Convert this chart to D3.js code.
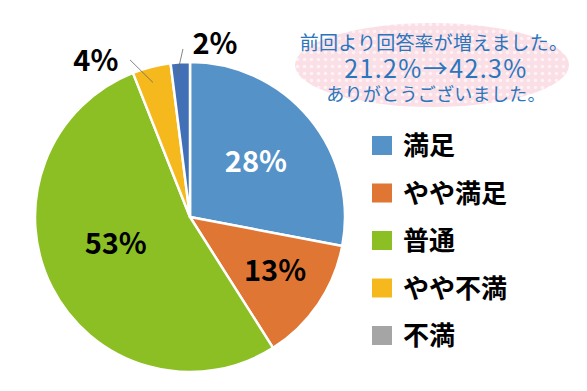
<!DOCTYPE html>
<html><head><meta charset="utf-8">
<script src="https://cdn.jsdelivr.net/npm/d3@7"></script>
<style>html,body{margin:0;padding:0;background:#fff;}svg{display:block;}</style>
</head><body>
<svg id="c" width="587" height="391"></svg>
<script>
const categories = ["満足", "やや満足", "普通", "やや不満", "不満"];
const values = [28, 13, 53, 4, 2];
const legendColors = ["#5592c8", "#e07634", "#8cbf24", "#f5b91e", "#a5a5a5"];
const sliceColors = ["#5592c8", "#e07634", "#8cbf24", "#f5b91e", "#4170b6"];
const labels = ["28%", "13%", "53%", "4%", "2%"];
const labelColors = ["#fff", "#000", "#000", "#000", "#000"];
const noteLines = ["前回より回答率が増えました。", "21.2%→42.3%", "ありがとうございました。"];

const svg = d3.select("#c");
const font = "'Noto Sans CJK JP', 'Noto Sans', sans-serif";

// speech bubble background
const defs = svg.append("defs");
const pat = defs.append("pattern").attr("id", "dots").attr("patternUnits", "userSpaceOnUse")
  .attr("width", 7).attr("height", 7);
pat.append("rect").attr("width", 7).attr("height", 7).attr("fill", "#fbdfe6");
pat.append("circle").attr("cx", 3.5).attr("cy", 3.5).attr("r", 1.8).attr("fill", "#fef2f5");
svg.append("ellipse").attr("cx", 432).attr("cy", 65).attr("rx", 137).attr("ry", 42)
  .attr("fill", "url(#dots)");

const note = svg.append("g").attr("fill", "#2a76bd").attr("font-family", font).attr("text-anchor", "middle");
note.append("text").attr("x", 434).attr("y", 50).attr("font-size", 19).attr("letter-spacing", 0.2).text(noteLines[0]);
note.append("text").attr("x", 436).attr("y", 78).attr("font-size", 25).attr("font-weight", 400).attr("letter-spacing", 1.4).text(noteLines[1]);
note.append("text").attr("x", 436).attr("y", 101).attr("font-size", 18).attr("letter-spacing", 0.3).text(noteLines[2]);

// pie
const cx = 190, cy = 217, r = 155;
const pie = d3.pie().sort(null).value(d => d)(values);
const arc = d3.arc().innerRadius(0).outerRadius(r);
const g = svg.append("g").attr("transform", `translate(${cx},${cy})`);
g.selectAll("path").data(pie).join("path")
  .attr("d", arc).attr("fill", (d, i) => sliceColors[i])
  .attr("stroke", "#fff").attr("stroke-width", 2.5).attr("stroke-linejoin", "round");

// label positions by polar coords (angle deg, radius fraction)
const labelPolar = [[50, 0.555], [122.4, 0.65], [250, 0.51], [329, 1.18], [8.2, 1.13]];
const fs = 29;
const rad = Math.PI / 180;
g.selectAll("text.lbl").data(pie).join("text").attr("class", "lbl")
  .attr("x", (d, i) => Math.sin(labelPolar[i][0] * rad) * labelPolar[i][1] * r)
  .attr("y", (d, i) => -Math.cos(labelPolar[i][0] * rad) * labelPolar[i][1] * r)
  .attr("dy", "0.36em")
  .attr("text-anchor", "middle").attr("font-family", font).attr("font-weight", 700)
  .attr("font-size", fs).attr("fill", (d, i) => labelColors[i]).text((d, i) => labels[i]);

// leader lines for small slices: [index, r0, r1, offset0 deg, offset1 deg]
const leaders = [[3, 0.90, 1.085, -1, -6.5], [4, 0.92, 1.085, -1.6, 1.2]];
leaders.forEach(([i, r0, r1, o0, o1]) => {
  const d = pie[i];
  const a = (d.startAngle + d.endAngle) / 2;
  const a0 = a + o0 * rad, a1 = a + o1 * rad;
  g.append("line")
    .attr("x1", Math.sin(a0) * r * r0).attr("y1", -Math.cos(a0) * r * r0)
    .attr("x2", Math.sin(a1) * r * r1).attr("y2", -Math.cos(a1) * r * r1)
    .attr("stroke", "#666").attr("stroke-width", 0.8);
});

// legend
const ly = d3.scalePoint().domain(categories).range([146, 336]);
const lg = svg.append("g");
lg.selectAll("rect").data(categories).join("rect")
  .attr("x", 372).attr("y", d => ly(d) - 10).attr("width", 20).attr("height", 19)
  .attr("fill", (d, i) => legendColors[i]);
lg.selectAll("text").data(categories).join("text")
  .attr("x", 403).attr("y", d => ly(d)).attr("dy", "0.36em")
  .attr("font-family", font).attr("font-weight", 700).attr("font-size", 26)
  .attr("fill", "#000").text(d => d);
</script>
</body></html>
